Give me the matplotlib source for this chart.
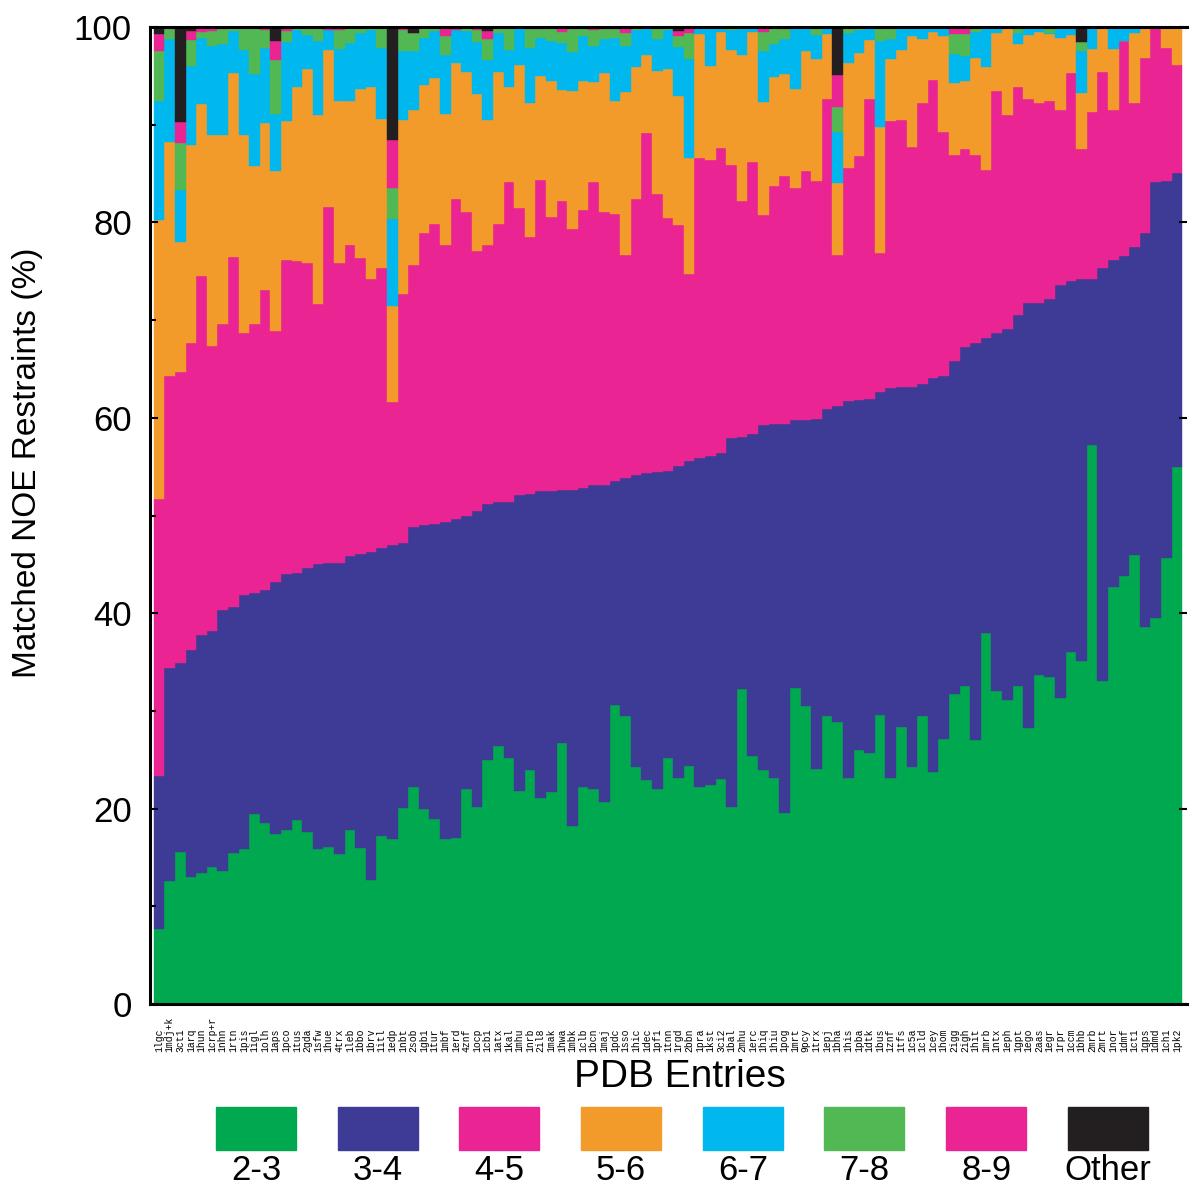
import numpy as np
import matplotlib
matplotlib.use("Agg")
import matplotlib.pyplot as plt
from matplotlib.patches import Rectangle
from matplotlib.transforms import blended_transform_factory

plt.rcParams['font.family'] = ['Liberation Sans', 'DejaVu Sans']

# PDB entries, one bar each
entries = ["1lgc", "1mdj+k", "3ct1", "1arq", "1hun", "1crp+r", "1nhn", "1rtn", "1pis", "1igl",
           "1olh", "1aps", "1pco", "1tus", "2gda", "1sfw", "1hue", "4trx", "1leb", "1bbo",
           "1brv", "1itl", "1edp", "1nbt", "2sob", "1gb1", "1tur", "1mbf", "1erd", "4znf",
           "1ocp", "1cb1", "1atx", "1kal", "1mhu", "1nrb", "2il8", "1mak", "1hwa", "1mbk",
           "1clb", "1bcn", "1maj", "1pdc", "1sso", "1hic", "1dec", "1pf1", "1tnn", "1rgd",
           "2bbn", "1pra", "1kst", "3ci2", "1bal", "2mhu", "1erc", "1hiq", "1hiu", "1pog",
           "1mrt", "9pcy", "1trx", "1epj", "1bha", "1his", "1pba", "1dtk", "1bus", "1znf",
           "1tfs", "1c5a", "1cld", "1cey", "1hom", "2igg", "2igh", "1hit", "1mrb", "1ntx",
           "1eph", "1gpt", "1ego", "2aas", "1egr", "1rpr", "1ccm", "1bhb", "2mrb", "2mrt",
           "1nor", "1dmf", "1ct1", "1gps", "1dmd", "1ch1", "1pk2"]

categories = ["2-3", "3-4", "4-5", "5-6", "6-7", "7-8", "8-9", "Other"]
colors = ["#00a94f", "#3d3b96", "#ea2492", "#f29b2a", "#00b8ee", "#52b853", "#ea2492", "#231f20"]

# upper edge (cumulative %) of each range
edge_23 = [7.7, 12.6, 15.6, 13.0, 13.4, 14.0, 13.6, 15.5, 15.9, 19.4,
           18.5, 17.4, 17.8, 18.8, 17.6, 15.9, 16.1, 15.4, 17.8, 16.0,
           12.7, 17.2, 16.9, 20.1, 22.2, 20.0, 18.9, 16.9, 17.0, 22.0,
           20.2, 25.0, 26.4, 25.2, 21.8, 23.9, 21.1, 21.7, 26.7, 18.2,
           22.2, 22.0, 20.7, 30.6, 29.5, 24.3, 22.9, 22.0, 25.2, 23.1,
           24.4, 22.2, 22.4, 23.0, 20.2, 32.2, 25.4, 24.0, 23.1, 19.6,
           32.3, 30.5, 24.1, 29.5, 28.9, 23.1, 26.0, 25.7, 29.6, 23.1,
           28.4, 24.3, 29.5, 23.7, 27.1, 31.7, 32.5, 27.0, 38.0, 32.0,
           31.1, 32.5, 28.2, 33.7, 33.5, 31.3, 36.0, 35.1, 57.2, 33.1,
           42.7, 43.8, 46.0, 38.6, 39.5, 45.7, 55.0]

edge_34 = [23.3, 34.4, 34.9, 36.2, 37.8, 38.2, 40.3, 40.6, 41.9, 42.1,
           42.4, 43.2, 44.0, 44.1, 44.6, 45.0, 45.1, 45.1, 45.9, 46.1,
           46.3, 46.7, 47.0, 47.2, 48.8, 49.0, 49.1, 49.3, 49.6, 50.0,
           50.5, 51.2, 51.4, 51.4, 52.1, 52.2, 52.5, 52.5, 52.6, 52.6,
           52.8, 53.1, 53.1, 53.5, 53.8, 54.1, 54.3, 54.5, 54.6, 55.1,
           55.6, 55.9, 56.1, 56.4, 57.9, 58.0, 58.3, 59.3, 59.4, 59.4,
           59.8, 59.8, 59.9, 60.9, 61.2, 61.7, 61.8, 61.9, 62.6, 63.0,
           63.2, 63.2, 63.5, 64.1, 64.3, 65.8, 67.2, 67.7, 68.2, 68.7,
           69.1, 70.5, 71.7, 71.8, 72.2, 73.6, 74.0, 74.2, 74.2, 75.3,
           76.2, 76.6, 77.5, 78.9, 84.1, 84.2, 85.1]

edge_45 = [51.7, 64.3, 64.7, 67.7, 74.5, 67.3, 69.6, 76.5, 68.7, 69.6,
           73.1, 68.9, 76.2, 76.0, 75.8, 71.6, 81.6, 75.8, 77.7, 76.4,
           74.2, 75.3, 61.6, 72.7, 75.6, 78.9, 79.8, 77.7, 82.4, 81.1,
           77.1, 77.7, 79.8, 84.1, 81.5, 78.5, 84.3, 80.6, 82.2, 79.3,
           81.3, 84.1, 81.1, 80.9, 76.7, 82.4, 89.1, 82.9, 80.4, 79.7,
           74.7, 86.6, 86.4, 87.6, 85.9, 82.2, 86.2, 80.8, 83.7, 84.8,
           83.5, 85.3, 84.2, 92.6, 76.7, 85.6, 86.8, 92.6, 76.9, 90.4,
           90.5, 87.7, 92.2, 94.6, 89.3, 86.9, 87.5, 86.9, 85.4, 93.4,
           91.0, 93.9, 92.6, 92.2, 92.4, 91.5, 95.3, 87.5, 91.3, 95.4,
           91.5, 98.6, 92.2, 96.8, 100.0, 97.8, 96.1]

edge_56 = [80.2, 88.2, 78.0, 87.9, 92.1, 88.9, 88.9, 95.3, 88.9, 85.8,
           90.2, 85.3, 90.4, 93.9, 95.7, 91.0, 97.6, 92.4, 92.4, 93.7,
           93.9, 90.6, 71.4, 90.5, 91.5, 94.1, 94.8, 91.1, 96.3, 95.4,
           93.1, 90.5, 95.4, 93.9, 96.1, 92.2, 95.0, 94.5, 93.6, 93.4,
           94.5, 94.4, 95.3, 92.4, 93.3, 95.9, 97.1, 95.5, 95.7, 92.9,
           86.6, 99.3, 96.0, 99.5, 97.6, 97.1, 99.5, 92.3, 94.9, 95.2,
           93.7, 97.5, 96.7, 99.3, 84.0, 96.3, 97.3, 98.7, 89.8, 96.7,
           97.6, 99.1, 98.8, 99.5, 99.1, 94.3, 94.5, 96.8, 95.9, 99.4,
           100.0, 98.3, 99.2, 99.5, 99.3, 98.9, 99.2, 93.2, 97.7, 100.0,
           97.7, 98.6, 99.4, 100.0, 100.0, 100.0, 100.0]

edge_67 = [92.4, 98.8, 83.3, 96.0, 98.9, 98.1, 98.3, 99.6, 97.6, 95.2,
           97.9, 91.1, 98.5, 99.7, 99.2, 98.6, 99.7, 97.7, 98.4, 99.4,
           99.7, 97.9, 80.3, 97.5, 97.5, 98.9, 99.6, 97.1, 99.7, 99.6,
           98.5, 96.6, 99.4, 97.6, 100.0, 97.9, 98.9, 98.6, 98.4, 97.4,
           99.1, 98.1, 98.8, 98.9, 98.1, 99.7, 100.0, 98.8, 99.7, 98.0,
           96.7, 100.0, 100.0, 100.0, 99.7, 100.0, 100.0, 97.5, 98.3, 98.8,
           100.0, 100.0, 99.2, 100.0, 89.3, 99.4, 99.7, 100.0, 98.6, 98.8,
           100.0, 100.0, 100.0, 100.0, 100.0, 97.2, 97.0, 99.5, 100.0, 100.0,
           100.0, 99.4, 100.0, 100.0, 99.4, 100.0, 100.0, 97.5, 100.0, 100.0,
           100.0, 100.0, 100.0, 100.0, 100.0, 100.0, 100.0]

edge_78 = [97.5, 99.8, 88.1, 98.7, 99.5, 99.6, 99.8, 100.0, 100.0, 100.0,
           99.7, 96.6, 99.6, 100.0, 100.0, 100.0, 99.7, 99.7, 100.0, 100.0,
           100.0, 99.9, 83.5, 99.7, 99.4, 100.0, 100.0, 99.1, 99.7, 100.0,
           99.7, 98.8, 100.0, 100.0, 100.0, 99.8, 99.8, 100.0, 99.5, 99.8,
           100.0, 99.7, 99.8, 99.8, 99.4, 100.0, 100.0, 100.0, 100.0, 99.1,
           99.4, 100.0, 100.0, 100.0, 100.0, 100.0, 100.0, 99.5, 100.0, 99.8,
           100.0, 100.0, 100.0, 100.0, 91.8, 100.0, 100.0, 100.0, 100.0, 100.0,
           100.0, 100.0, 100.0, 100.0, 100.0, 99.3, 99.3, 100.0, 100.0, 100.0,
           100.0, 100.0, 100.0, 100.0, 100.0, 100.0, 100.0, 98.5, 100.0, 100.0,
           100.0, 100.0, 100.0, 100.0, 100.0, 100.0, 100.0]

edge_89 = [99.3, 100.0, 90.3, 99.6, 100.0, 100.0, 100.0, 100.0, 100.0, 100.0,
           100.0, 98.6, 100.0, 100.0, 100.0, 100.0, 100.0, 100.0, 100.0, 100.0,
           100.0, 100.0, 88.4, 100.0, 99.4, 100.0, 100.0, 100.0, 100.0, 100.0,
           100.0, 99.6, 100.0, 100.0, 100.0, 100.0, 100.0, 100.0, 100.0, 100.0,
           100.0, 100.0, 100.0, 100.0, 100.0, 100.0, 100.0, 100.0, 100.0, 99.6,
           100.0, 100.0, 100.0, 100.0, 100.0, 100.0, 100.0, 100.0, 100.0, 100.0,
           100.0, 100.0, 100.0, 100.0, 95.1, 100.0, 100.0, 100.0, 100.0, 100.0,
           100.0, 100.0, 100.0, 100.0, 100.0, 100.0, 100.0, 100.0, 100.0, 100.0,
           100.0, 100.0, 100.0, 100.0, 100.0, 100.0, 100.0, 98.5, 100.0, 100.0,
           100.0, 100.0, 100.0, 100.0, 100.0, 100.0, 100.0]

edges = np.array([edge_23, edge_34, edge_45, edge_56, edge_67, edge_78, edge_89,
                  [100.0] * len(entries)])
lower = np.vstack([np.zeros(len(entries)), edges[:-1]])
heights = np.clip(edges - lower, 0, None)

W, H = 1195, 1185
fig = plt.figure(figsize=(W / 100, H / 100), dpi=100)
ax = fig.add_axes([150 / W, (H - 1004) / H, (1187 - 150) / W, (1004 - 27) / H])

x = np.arange(len(entries))
for k in range(len(categories)):
    ax.bar(x, heights[k], bottom=lower[k], width=1.0, color=colors[k],
           edgecolor=colors[k], linewidth=0.3)

ax.set_xlim(-0.85, len(entries) - 0.05)
ax.set_ylim(0, 100)
ax.set_xticks([])
ax.set_yticks(np.arange(0, 101, 20))
ax.set_yticks(np.arange(10, 100, 20), minor=True)
ax.tick_params(axis='y', which='major', direction='in', right=True, labelsize=25,
               pad=13, width=1.5, length=6)
ax.tick_params(axis='y', which='minor', direction='in', length=4, width=1.5)
ax.spines['right'].set_visible(False)
for s in ['left', 'bottom', 'top']:
    ax.spines[s].set_linewidth(2.2)

fig.text(28 / W, 1 - 463 / H, "Matched NOE Restraints (%)", fontsize=24,
         rotation=90, ha='center', va='center')

trans = blended_transform_factory(ax.transData, ax.transAxes)
for i, name in enumerate(entries):
    ax.text(i, -(1052 - 1004) / 977, name, rotation=90, ha='center', va='bottom',
            fontsize=7, family='Liberation Mono', transform=trans)

fig.text(680 / W, 1 - 1077 / H, "PDB Entries", fontsize=28, ha='center', va='center')

# legend: coloured boxes with range labels below
lax = fig.add_axes([0, 0, 1, 1])
lax.set_xlim(0, W)
lax.set_ylim(H, 0)
lax.axis('off')
for k, (lab, col) in enumerate(zip(categories, colors)):
    x0 = 216 + k * 121.7
    lax.add_patch(Rectangle((x0, 1107), 80, 43, color=col))
    lax.text(x0 + 40, 1170, lab, fontsize=25, ha='center', va='center')

fig.savefig("out.png", dpi=100)
